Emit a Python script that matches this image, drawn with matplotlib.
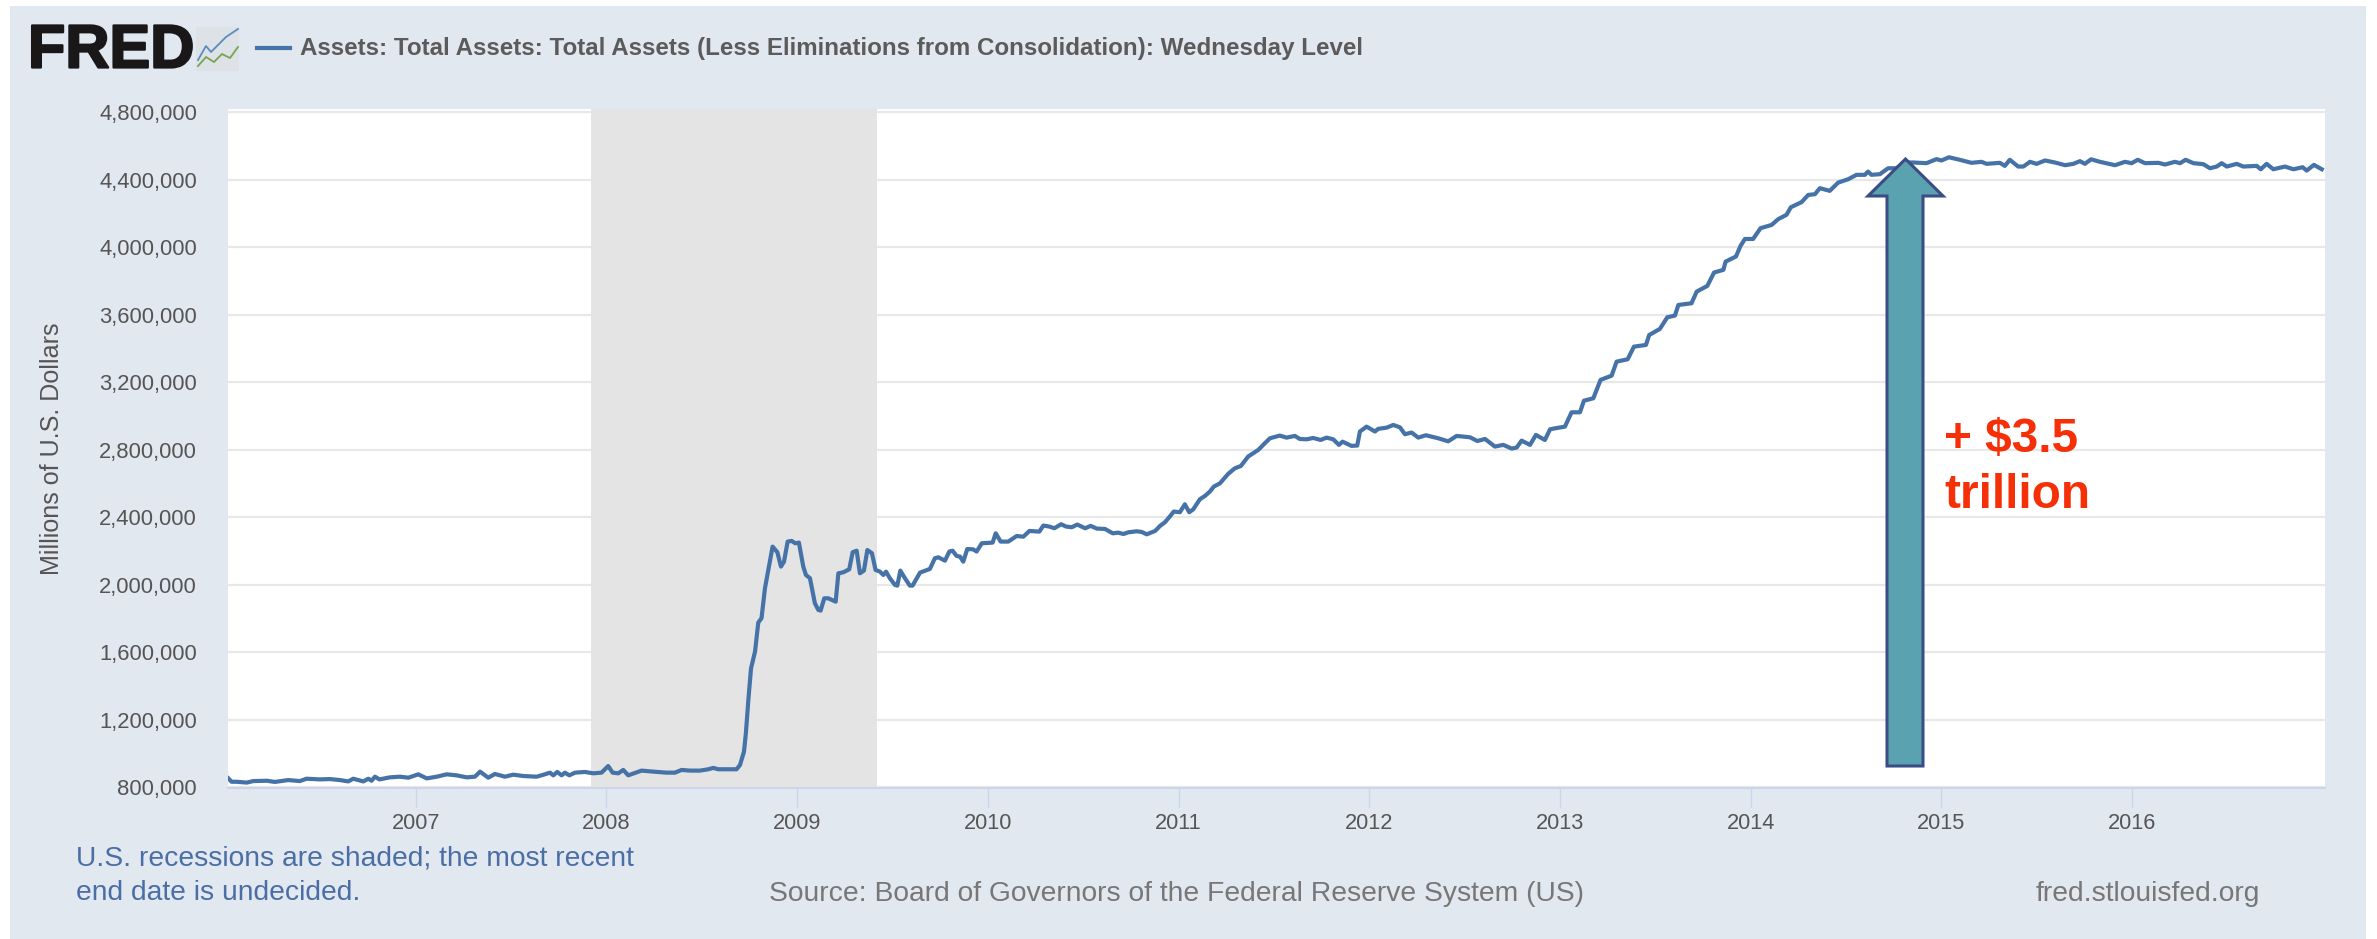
import matplotlib
matplotlib.use("Agg")
import matplotlib.pyplot as plt
import matplotlib.patheffects as pe
from matplotlib.patches import Rectangle, Polygon
from matplotlib.lines import Line2D
from matplotlib.transforms import Affine2D
from matplotlib.ticker import FuncFormatter

# ---- data (decimal year, millions of dollars) ----
years_2006_2008 = [2006.017,2006.034,2006.06,2006.113,2006.148,2006.218,2006.261,2006.331,2006.392,2006.427,2006.497,2006.55,2006.602,2006.646,2006.672,2006.725,2006.751,2006.768,2006.786,2006.809,2006.864,2006.917,2006.961,2007.013,2007.057,2007.11,2007.162,2007.214,2007.267,2007.31,2007.337,2007.38,2007.415,2007.468,2007.511,2007.564,2007.634,2007.677,2007.704,2007.721,2007.742,2007.765,2007.782,2007.805,2007.835,2007.887,2007.931,2007.974,2008.009,2008.032,2008.062,2008.088,2008.114,2008.158,2008.184,2008.245,2008.315,2008.359,2008.394,2008.438,2008.49,2008.534,2008.56,2008.586]
assets_2006_2008 = [854,834,834,829,838,840,833,844,838,852,848,850,844,836,852,836,852,840,864,848,860,864,858,878,854,864,878,872,860,864,894,858,880,864,876,868,864,878,888,872,892,872,888,872,888,892,884,888,927,888,884,904,872,890,900,894,888,888,904,900,900,908,916,908]

years_crisis = [2008.682,2008.70,2008.721,2008.731,2008.744,2008.758,2008.779,2008.796,2008.813,2008.831,2008.871,2008.896,2008.915,2008.931,2008.95,2008.971,2008.99,2009.009,2009.032,2009.046,2009.067,2009.093,2009.111,2009.123,2009.142,2009.163,2009.202,2009.216,2009.242,2009.273,2009.291,2009.312,2009.329,2009.35,2009.368,2009.392,2009.411,2009.434,2009.452,2009.466,2009.486,2009.513,2009.525,2009.541,2009.565,2009.591,2009.605,2009.644,2009.696,2009.722,2009.74,2009.775,2009.798,2009.815,2009.836,2009.854,2009.871,2009.892,2009.923,2009.941]
assets_crisis = [908,933,1012,1121,1319,1506,1605,1777,1803,1980,2227,2194,2109,2138,2257,2261,2247,2251,2109,2059,2040,1891,1852,1848,1921,1921,1901,2069,2075,2093,2194,2203,2069,2085,2207,2188,2089,2079,2059,2079,2040,2000,1996,2085,2040,1996,1996,2073,2095,2158,2164,2144,2198,2203,2172,2168,2138,2213,2211,2198]

years_2010_2012 = [2009.968,2010.025,2010.041,2010.067,2010.107,2010.151,2010.186,2010.218,2010.27,2010.291,2010.322,2010.349,2010.384,2010.41,2010.44,2010.469,2010.51,2010.539,2010.571,2010.614,2010.655,2010.684,2010.711,2010.737,2010.78,2010.807,2010.833,2010.877,2010.903,2010.928,2010.954,2010.975,2011.007,2011.033,2011.056,2011.077,2011.112,2011.138,2011.164,2011.185,2011.217,2011.26,2011.295,2011.327,2011.365,2011.418,2011.444,2011.479,2011.531,2011.566,2011.61,2011.636,2011.671,2011.706,2011.745,2011.776,2011.811,2011.841,2011.86,2011.907,2011.937,2011.951,2011.986,2012.03,2012.047,2012.091,2012.126,2012.161,2012.187,2012.222,2012.257,2012.297,2012.362,2012.414,2012.458,2012.528,2012.567,2012.607,2012.659,2012.703,2012.747,2012.773,2012.799,2012.843,2012.874,2012.921,2012.948]
assets_2010_2012 = [2247,2251,2306,2257,2257,2290,2286,2320,2316,2352,2346,2336,2360,2346,2342,2358,2336,2350,2334,2332,2306,2310,2302,2312,2318,2314,2300,2320,2350,2371,2405,2435,2431,2478,2431,2448,2508,2527,2553,2583,2602,2658,2691,2705,2761,2800,2830,2869,2885,2873,2883,2865,2863,2871,2859,2873,2863,2830,2849,2824,2826,2909,2938,2909,2925,2932,2948,2934,2893,2903,2873,2887,2869,2851,2883,2875,2853,2865,2820,2830,2808,2814,2855,2830,2889,2859,2922]

years_2013_2014 = [2012.974,2013.026,2013.061,2013.105,2013.126,2013.175,2013.213,2013.271,2013.297,2013.355,2013.388,2013.451,2013.468,2013.524,2013.563,2013.603,2013.621,2013.69,2013.717,2013.773,2013.808,2013.857,2013.869,2013.923,2013.947,2013.97,2014.013,2014.052,2014.11,2014.144,2014.188,2014.211,2014.267,2014.302,2014.337,2014.363,2014.415,2014.459,2014.512,2014.555,2014.599,2014.616,2014.634,2014.678,2014.721,2014.765,2014.809,2014.852,2014.922,2014.975]
assets_2013_2014 = [2928,2938,3023,3023,3092,3106,3215,3240,3323,3337,3412,3422,3481,3517,3586,3596,3659,3669,3738,3772,3851,3867,3916,3946,4009,4050,4050,4114,4133,4167,4193,4238,4268,4311,4315,4351,4335,4384,4404,4430,4430,4449,4430,4434,4469,4469,4503,4503,4499,4523]

years_2015_2016 = [2015.001,2015.04,2015.097,2015.158,2015.211,2015.237,2015.307,2015.333,2015.359,2015.403,2015.43,2015.465,2015.5,2015.544,2015.596,2015.649,2015.692,2015.727,2015.753,2015.785,2015.832,2015.911,2015.963,2015.998,2016.03,2016.068,2016.138,2016.173,2016.225,2016.252,2016.281,2016.322,2016.374,2016.409,2016.444,2016.47,2016.497,2016.549,2016.584,2016.654,2016.675,2016.706,2016.741,2016.802,2016.846,2016.895,2016.916,2016.954,2016.995]
assets_2015_2016 = [4515,4534,4519,4501,4507,4495,4501,4483,4519,4479,4479,4507,4495,4515,4503,4487,4495,4511,4495,4522,4507,4487,4507,4499,4519,4499,4501,4491,4507,4499,4519,4499,4493,4469,4479,4499,4479,4495,4479,4483,4463,4495,4463,4479,4463,4475,4455,4489,4463]

x_ticks = [2007, 2008, 2009, 2010, 2011, 2012, 2013, 2014, 2015, 2016]
y_ticks = [800000, 1200000, 1600000, 2000000, 2400000, 2800000, 3200000, 3600000, 4000000, 4400000, 4800000]
recession = (2007.92, 2009.42)
series_name = "Assets: Total Assets: Total Assets (Less Eliminations from Consolidation): Wednesday Level"

years = years_2006_2008 + years_crisis + years_2010_2012 + years_2013_2014 + years_2015_2016
assets = [v * 1000 for v in assets_2006_2008 + assets_crisis + assets_2010_2012 + assets_2013_2014 + assets_2015_2016]

W, H = 2377, 939
plt.rcParams['font.family'] = ['Liberation Sans', 'DejaVu Sans']
fig = plt.figure(figsize=(W / 100, H / 100), dpi=100, facecolor='white')
px = Affine2D().scale(1, -1).translate(0, H)   # top-left pixel coordinates

BG = '#e1e8f0'
fig.add_artist(Rectangle((10, 6), 2356, 933, transform=px, fc=BG, ec='none', zorder=-5))

ax = fig.add_axes([227.5 / W, 1 - 788 / H, (2325 - 227.5) / W, (788 - 109) / H])
ax.set_facecolor('white')
ax.set_xlim(2006.0126, 2017.012)
ax.set_ylim(797000, 4820000)
ax.axvspan(*recession, color='#e4e4e4', lw=0, zorder=1.5)
ax.plot(years, assets, color='#4572a7', lw=3, solid_joinstyle='round', zorder=3)

ax.set_xticks(x_ticks)
ax.set_yticks(y_ticks)
ax.yaxis.set_major_formatter(FuncFormatter(lambda v, _: f"{int(v):,}"))
ax.grid(axis='y', color='#e8e8e8', lw=1.6, zorder=1)
ax.set_axisbelow(True)
for s in ('top', 'left', 'right'):
    ax.spines[s].set_visible(False)
ax.spines['bottom'].set_color('#ccd6eb')
ax.spines['bottom'].set_linewidth(1.5)
ax.tick_params(axis='x', length=14, width=1, color='#ccd6eb', labelsize=15.7, labelcolor='#555555', pad=4)
ax.tick_params(axis='y', length=0, labelsize=15.8, labelcolor='#555555', pad=22)
ax.set_ylabel("Millions of U.S. Dollars", fontsize=18.1, color='#555555')
ax.yaxis.set_label_coords((64 - 227.5) / (2325 - 227.5), (788 - 449) / (788 - 109))

# header
fig.text(28, 52, "FRED", transform=px, fontsize=44, fontweight='bold', color='#1a1718', va='center', ha='left',
         path_effects=[pe.withStroke(linewidth=1.6, foreground='#1a1718')])
fig.add_artist(Rectangle((196, 27), 43, 44, transform=px, fc='#dde2e6', ec='none'))
fig.add_artist(Line2D([198, 206, 211, 219, 226, 238], [60, 46, 52, 44, 37, 29], transform=px, color='#5b8bc0', lw=1.3))
fig.add_artist(Line2D([198, 206, 214, 222, 230, 238], [66, 57, 62, 54, 58, 47], transform=px, color='#7aa34f', lw=1.3))
fig.add_artist(Line2D([257, 290], [48, 48], transform=px, color='#4572a7', lw=3))
fig.text(300, 49, series_name, transform=px, fontsize=17.4, fontweight='bold', color='#5b5b5b', va='center', ha='left')

# footer
note = "U.S. recessions are shaded; the most recent\nend date is undecided."
fig.text(76, 876, note, transform=px, fontsize=20.3, color='#4a6ea5', va='center', ha='left', linespacing=1.42)
fig.text(769, 894, "Source: Board of Governors of the Federal Reserve System (US)", transform=px,
         fontsize=20.3, color='#777777', va='center', ha='left')
fig.text(2036, 894, "fred.stlouisfed.org", transform=px, fontsize=20.3, color='#777777', va='center', ha='left')

# annotation arrow
fig.add_artist(Polygon([(1905.5, 159), (1943, 196), (1923, 196), (1923, 766), (1887, 766), (1887, 196), (1868, 196)],
                       closed=True, transform=px, fc='#5ba2b0', ec='#3c4d85', lw=2.2, joinstyle='miter', zorder=5))
fig.text(1944, 440, "+ $3.5", transform=px, fontsize=34.4, fontweight='bold', color='#f53008', va='center', ha='left', zorder=6)
fig.text(1944, 496, "trillion", transform=px, fontsize=34.4, fontweight='bold', color='#f53008', va='center', ha='left', zorder=6)

fig.savefig('out.png', dpi=100, facecolor='white')
